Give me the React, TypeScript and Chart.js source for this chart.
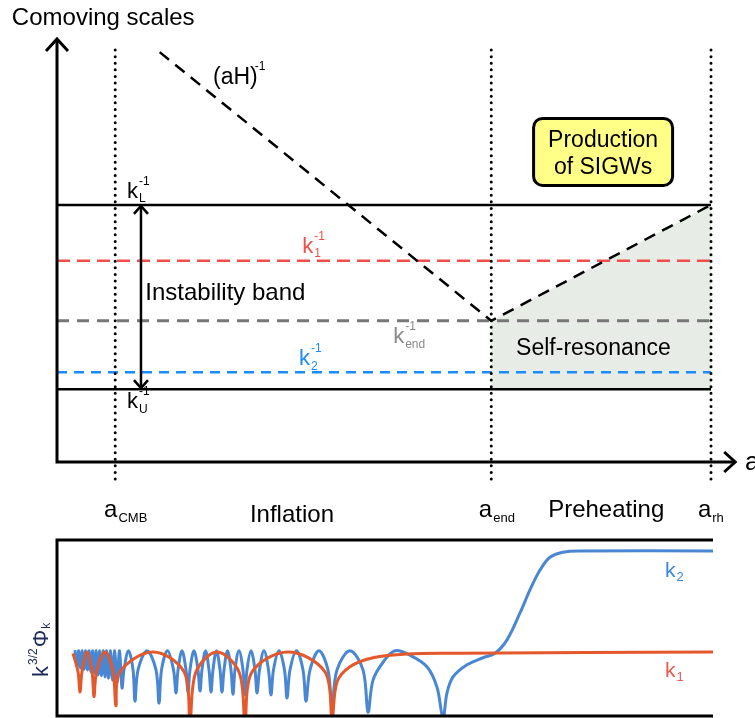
import React, { useEffect, useRef } from "react";
import { Chart, registerables } from "chart.js";

Chart.register(...registerables);

const FONT = '"Liberation Sans", Arial, Helvetica, sans-serif';

// ---------- upper panel: x = ln a (arbitrary units), y = log comoving length (arbitrary units)
const A_CMB = 8.9;
const A_END = 66.4;
const A_RH = 100;
const INV_K_L = 62.1;
const INV_K_1 = 48.6;
const INV_K_END = 34.1;
const INV_K_2 = 21.7;
const INV_K_U = 17.6;
// comoving Hubble radius (aH)^-1: shrinks during inflation, grows again during preheating
const HUBBLE_A = [15.7, A_END, A_RH];
const HUBBLE_R = [99, INV_K_END, INV_K_L];
// extent of the epoch markers and the axes
const MARKER_TOP = 99.5;
const MARKER_BOTTOM = -4.8;
const Y_AXIS_END = 102.2;
const X_AXIS_END = 103.7;
const BAND_ARROW_A = 12.84;

// ---------- lower panel: k^{3/2} Φ_k against the same time coordinate
const K1_CURVE: [number, number][] = [
  [2.44, 0.98], [3.2, 0.69], [3.51, 0.375], [3.81, 0.69], [4.57, 1.0], [5.34, 0.69],
  [5.64, 0.3], [6.02, 0.69], [7.32, 1.0], [8.54, 0.69], [8.99, 0.16], [9.6, 0.69],
  [14.63, 1.0], [19.36, 0.69], [20.27, -0.03], [21.19, 0.69], [24.39, 1.0], [27.74, 0.69],
  [28.66, -0.03], [29.73, 0.69], [35.21, 1.0], [40.85, 0.69], [41.92, -0.03], [42.68, 0.53],
  [44.66, 0.77], [48.17, 0.91], [53.35, 0.97], [61.43, 0.98], [100, 1.0],
];

const K2_CURVE: [number, number][] = [
  [2.74, 1.03], [3.05, 0.77], [3.32, 1.02], [3.58, 0.75], [3.85, 1.02], [4.12, 0.73],
  [4.38, 1.02], [4.65, 0.72], [4.92, 1.02], [5.18, 0.69], [5.45, 1.02], [5.72, 0.67],
  [5.98, 1.02], [6.25, 0.64], [6.52, 1.02], [6.78, 0.63], [7.05, 1.02], [7.32, 0.61],
  [7.58, 1.02], [7.85, 0.59], [8.16, 1.02], [8.46, 0.56], [8.8, 1.02], [9.15, 0.52],
  [9.53, 1.02], [9.91, 0.44], [10.21, 0.72], [10.9, 1.02], [11.59, 0.72], [11.89, 0.23],
  [12.35, 0.72], [13.72, 1.02], [15.09, 0.72], [15.55, 0.2], [15.93, 0.72], [16.84, 1.02],
  [17.76, 0.72], [18.14, 0.36], [18.45, 0.72], [19.05, 1.02], [19.66, 0.72], [19.97, 0.375],
  [20.27, 0.72], [20.88, 1.02], [21.49, 0.72], [21.8, 0.39], [22.1, 0.72], [22.64, 1.02],
  [23.17, 0.72], [23.48, 0.375], [23.78, 0.72], [24.31, 1.02], [24.85, 0.72], [25.15, 0.375],
  [25.46, 0.72], [25.99, 1.02], [26.52, 0.72], [26.83, 0.34], [27.13, 0.72], [27.74, 1.02],
  [28.35, 0.72], [28.66, 0.33], [28.96, 0.72], [29.57, 1.02], [30.18, 0.72], [30.49, 0.36],
  [30.87, 0.72], [31.55, 1.02], [32.24, 0.72], [32.62, 0.33], [33.0, 0.72], [33.84, 1.02],
  [34.68, 0.72], [35.06, 0.28], [35.52, 0.72], [36.51, 1.02], [37.5, 0.72], [37.96, 0.23],
  [38.57, 0.72], [39.94, 1.02], [41.31, 0.72], [41.92, 0.16], [42.68, 0.72], [44.66, 1.02],
  [46.65, 0.72], [47.41, 0.06], [48.17, 0.56], [49.7, 0.84], [51.52, 1.02], [53.81, 0.95],
  [56.4, 0.77], [57.93, 0.45], [58.84, -0.03], [59.45, 0.36], [60.37, 0.61], [62.5, 0.8],
  [64.94, 0.91], [66.77, 0.98], [68.6, 1.19], [70.58, 1.61], [72.1, 1.97], [73.63, 2.28],
  [75.15, 2.48], [77.13, 2.56], [79.73, 2.58], [100, 2.58],
];
const LOWER_T_MAX = 100;
const LOWER_AMP_MAX = 2.75;

// ---------- colours
const INK = "#000000";
const RED = "#f04e4b";
const BLUE = "#1b8cff";
const GREY = "#777777";
const GREY_TEXT = "#8a8a8a";
const SHADE = "#e8ece6";
const NOTE_FILL = "#ffff88";
const K1_COLOR = "#e5582b";
const K2_COLOR = "#4a87d2";
const K1_LABEL = "#ea5a4e";
const K2_LABEL = "#3a86dc";
const Y_LABEL = "#1f2c57";

type Ctx = CanvasRenderingContext2D;

function put(ctx: Ctx, s: string, x: number, y: number, size: number, color: string, align: CanvasTextAlign = "left") {
  ctx.font = `${size}px ${FONT}`;
  ctx.fillStyle = color;
  ctx.textAlign = align;
  ctx.textBaseline = "alphabetic";
  ctx.fillText(s, x, y);
  return ctx.measureText(s).width;
}

// base glyph with stacked superscript / subscript to its right
function scripted(
  ctx: Ctx, base: string, x: number, y: number, size: number, color: string,
  sup: string | null, sub: string | null, small: number, supDx = 1,
) {
  const w = put(ctx, base, x, y, size, color);
  if (sup) put(ctx, sup, x + w + supDx, y - size * 0.6, small, color);
  if (sub) put(ctx, sub, x + w + 1, y + size * 0.2, small, color);
}

function chevron(ctx: Ctx, tx: number, ty: number, dx: number, dy: number, ox: number, oy: number) {
  ctx.beginPath();
  ctx.moveTo(tx + dx + ox, ty + dy + oy);
  ctx.lineTo(tx, ty);
  ctx.lineTo(tx + dx - ox, ty + dy - oy);
  ctx.stroke();
}

function roundBox(ctx: Ctx, cx: number, cy: number, w: number, h: number, r: number) {
  const x = cx - w / 2, y = cy - h / 2;
  ctx.beginPath();
  ctx.moveTo(x + r, y);
  ctx.arcTo(x + w, y, x + w, y + h, r);
  ctx.arcTo(x + w, y + h, x, y + h, r);
  ctx.arcTo(x, y + h, x, y, r);
  ctx.arcTo(x, y, x + w, y, r);
  ctx.closePath();
}

const upperOverlay = {
  id: "upperOverlay",
  afterDatasetsDraw(chart: any) {
    const ctx: Ctx = chart.ctx;
    const X = (v: number) => chart.scales.x.getPixelForValue(v);
    const Y = (v: number) => chart.scales.y.getPixelForValue(v);
    ctx.save();
    ctx.strokeStyle = INK;
    ctx.lineJoin = "miter";
    ctx.lineCap = "butt";

    // axes
    ctx.lineWidth = 3;
    const x0 = X(0), y0 = Y(0);
    ctx.beginPath();
    ctx.moveTo(x0, y0 + 1.5);
    ctx.lineTo(x0, Y(Y_AXIS_END));
    ctx.moveTo(x0 - 1.5, y0);
    ctx.lineTo(X(X_AXIS_END), y0);
    ctx.stroke();
    chevron(ctx, x0, Y(Y_AXIS_END), 0, 12, 11, 0);
    chevron(ctx, X(X_AXIS_END), y0, -11, 0, 0, 10);

    // instability band double arrow
    ctx.lineWidth = 2.5;
    const ax = X(BAND_ARROW_A), aTop = Y(INV_K_L) + 1, aBot = Y(INV_K_U) - 1;
    ctx.beginPath();
    ctx.moveTo(ax, aTop);
    ctx.lineTo(ax, aBot);
    ctx.stroke();
    chevron(ctx, ax, aTop, 0, 8, 7, 0);
    chevron(ctx, ax, aBot, 0, -8, 7, 0);

    // "Production of SIGWs" note
    const bx = X(83.5), by = Y(74.9);
    roundBox(ctx, bx, by, 139, 67, 9);
    ctx.fillStyle = NOTE_FILL;
    ctx.fill();
    ctx.lineWidth = 3;
    ctx.stroke();
    put(ctx, "Production", bx, Y(76.1), 23, INK, "center");
    put(ctx, "of SIGWs", bx, Y(69.6), 23, INK, "center");

    // labels
    put(ctx, "Comoving scales", X(-6.9), Y(105.6), 24, INK);
    scripted(ctx, "(aH)", X(23.85), Y(91.3), 23, INK, "-1", null, 12, -3);
    scripted(ctx, "k", X(10.7), Y(63.8), 22, INK, "-1", "L", 12);
    scripted(ctx, "k", X(37.5), Y(50.5), 22, RED, "-1", "1", 12);
    put(ctx, "Instability band", X(13.5), Y(39.1), 24, INK);
    scripted(ctx, "k", X(51.4), Y(28.7), 22, GREY_TEXT, "-1", "end", 12);
    scripted(ctx, "k", X(37.0), Y(23.4), 22, BLUE, "-1", "2", 12);
    scripted(ctx, "k", X(10.7), Y(13.0), 22, INK, "-1", "U", 12);
    put(ctx, "Self-resonance", X(70.2), Y(25.9), 23, INK);

    scripted(ctx, "a", X(7.2), Y(-13.3), 24, INK, null, "CMB", 13);
    put(ctx, "Inflation", X(29.5), Y(-14.5), 24, INK);
    scripted(ctx, "a", X(64.5), Y(-13.3), 24, INK, null, "end", 13);
    put(ctx, "Preheating", X(75.1), Y(-13.3), 24, INK);
    scripted(ctx, "a", X(98.0), Y(-13.3), 24, INK, null, "rh", 13);
    put(ctx, "a", X(105.2), Y(-1.9), 26, INK);
    ctx.restore();
  },
};

const lowerOverlay = {
  id: "lowerOverlay",
  afterDatasetsDraw(chart: any) {
    const ctx: Ctx = chart.ctx;
    const X = (v: number) => chart.scales.x.getPixelForValue(v);
    const Y = (v: number) => chart.scales.y.getPixelForValue(v);
    ctx.save();
    // frame: top, left and bottom edges
    ctx.strokeStyle = INK;
    ctx.lineWidth = 3;
    ctx.lineJoin = "miter";
    ctx.beginPath();
    ctx.moveTo(X(LOWER_T_MAX), Y(LOWER_AMP_MAX));
    ctx.lineTo(X(0), Y(LOWER_AMP_MAX));
    ctx.lineTo(X(0), Y(0));
    ctx.lineTo(X(LOWER_T_MAX), Y(0));
    ctx.stroke();

    // curve labels
    scripted(ctx, "k", X(92.68), Y(2.17), 21, K2_LABEL, null, "2", 13);
    scripted(ctx, "k", X(92.68), Y(0.61), 21, K1_LABEL, null, "1", 13);

    // rotated axis label k^{3/2} Φ_k
    ctx.translate(X(0) - 9, Y(0.61));
    ctx.rotate(-Math.PI / 2);
    let cx = 0;
    cx += put(ctx, "k", cx, 0, 22, Y_LABEL) + 1;
    cx += put(ctx, "3/2", cx, -11, 12, Y_LABEL) + 1;
    cx += put(ctx, "Φ", cx, 0, 22, Y_LABEL) + 1;
    put(ctx, "k", cx, 2, 12, Y_LABEL);
    ctx.restore();
  },
};

function upperConfig(): any {
  const flat = (y: number, color: string, width: number, dash: number[]) => ({
    data: [{ x: 0, y }, { x: A_RH, y }],
    borderColor: color,
    borderWidth: width,
    borderDash: dash,
    order: 3,
  });
  const epoch = (a: number) => ({
    data: [{ x: a, y: MARKER_TOP }, { x: a, y: MARKER_BOTTOM }],
    borderColor: INK,
    borderWidth: 3,
    borderDash: [0, 6.6],
    borderCapStyle: "round",
    order: 1,
  });
  const hubble = HUBBLE_A.map((a, i) => ({ x: a, y: HUBBLE_R[i] }));
  return {
    type: "line",
    data: {
      datasets: [
        {
          // self-resonance region under the growing Hubble radius
          data: hubble.slice(1),
          borderWidth: 0,
          backgroundColor: SHADE,
          fill: { value: INV_K_U },
          order: 10,
        },
        flat(INV_K_L, INK, 2.5, []),
        flat(INV_K_U, INK, 2.5, []),
        flat(INV_K_1, RED, 2.5, [13, 7]),
        flat(INV_K_END, GREY, 3, [12, 8]),
        flat(INV_K_2, BLUE, 2.5, [10, 7]),
        { data: hubble, borderColor: INK, borderWidth: 2.5, borderDash: [12, 8], order: 2 },
        epoch(A_CMB),
        epoch(A_END),
        epoch(A_RH),
      ],
    },
    options: {
      responsive: false,
      animation: false,
      events: [],
      layout: { padding: { left: 57, right: 44, top: 48, bottom: 68 } },
      scales: {
        x: { type: "linear", min: 0, max: 100, display: false },
        y: { type: "linear", min: 0, max: 100, display: false },
      },
      elements: { point: { radius: 0 }, line: { tension: 0, fill: false } },
      datasets: { line: { clip: false } },
      plugins: { legend: { display: false }, tooltip: { enabled: false } },
    },
    plugins: [upperOverlay],
  };
}

function lowerConfig(): any {
  const pts = (c: [number, number][]) => c.map(([x, y]) => ({ x, y }));
  return {
    type: "line",
    data: {
      datasets: [
        { label: "k2", data: pts(K2_CURVE), borderColor: K2_COLOR, borderWidth: 3, tension: 0.35, order: 2 },
        { label: "k1", data: pts(K1_CURVE), borderColor: K1_COLOR, borderWidth: 3, tension: 0.35, order: 1 },
      ],
    },
    options: {
      responsive: false,
      animation: false,
      events: [],
      layout: { padding: { left: 57, right: 42, top: 10, bottom: 2 } },
      scales: {
        x: { type: "linear", min: 0, max: LOWER_T_MAX, display: false },
        y: { type: "linear", min: 0, max: LOWER_AMP_MAX, display: false },
      },
      elements: { point: { radius: 0 }, line: { fill: false, borderJoinStyle: "round" } },
      plugins: { legend: { display: false }, tooltip: { enabled: false } },
    },
    plugins: [lowerOverlay],
  };
}

export default function App() {
  const upperRef = useRef<HTMLCanvasElement>(null);
  const lowerRef = useRef<HTMLCanvasElement>(null);

  useEffect(() => {
    const upper = new Chart(upperRef.current as HTMLCanvasElement, upperConfig());
    const lower = new Chart(lowerRef.current as HTMLCanvasElement, lowerConfig());
    return () => {
      upper.destroy();
      lower.destroy();
    };
  }, []);

  return (
    <div style={{ position: "fixed", left: 0, top: 0, width: 755, height: 718, background: "#fff" }}>
      <canvas ref={upperRef} width={755} height={530} style={{ position: "absolute", left: 0, top: 0 }} />
      <canvas ref={lowerRef} width={755} height={188} style={{ position: "absolute", left: 0, top: 530 }} />
    </div>
  );
}
